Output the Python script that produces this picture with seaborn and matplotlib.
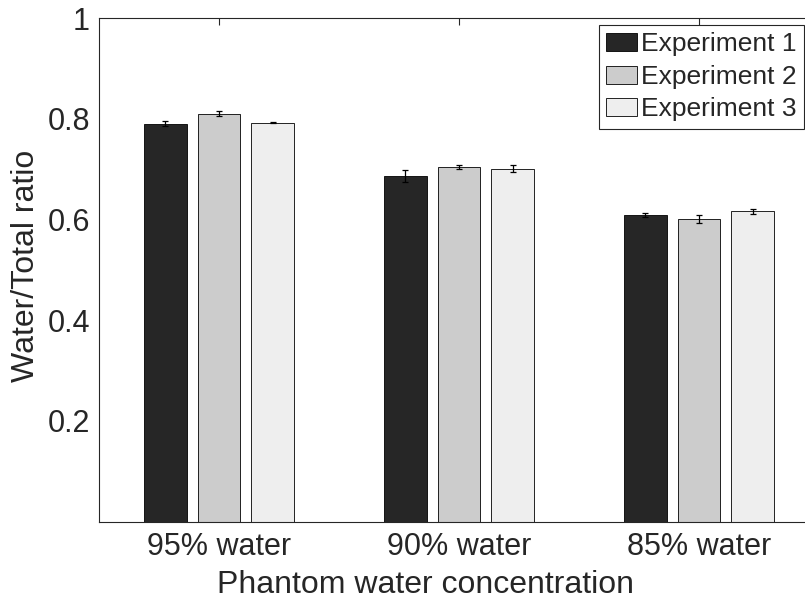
import numpy as np
import pandas as pd
import matplotlib
matplotlib.use('Agg')
import matplotlib.pyplot as plt
import seaborn as sns

groups = ['95% water', '90% water', '85% water']
experiments = ['Experiment 1', 'Experiment 2', 'Experiment 3']
exp1_mean = [0.790, 0.686, 0.608]
exp2_mean = [0.810, 0.704, 0.600]
exp3_mean = [0.792, 0.701, 0.616]
exp1_err = [0.0045, 0.012, 0.004]
exp2_err = [0.005, 0.004, 0.008]
exp3_err = [0.001, 0.0065, 0.005]
colors = ['#262626', '#cccccc', '#eeeeee']
yticks = [0.2, 0.4, 0.6, 0.8, 1.0]
ytick_labels = ['0.2', '0.4', '0.6', '0.8', '1']

means = [exp1_mean, exp2_mean, exp3_mean]
errs = [exp1_err, exp2_err, exp3_err]
rows = []
for e, m in zip(experiments, means):
    for g, v in zip(groups, m):
        rows.append({'group': g, 'experiment': e, 'ratio': v})
df = pd.DataFrame(rows)

sns.set_style('white')
plt.rcParams['font.family'] = ['Liberation Sans', 'DejaVu Sans']

fig = plt.figure(figsize=(8.05, 6.03), dpi=100)
ax = fig.add_axes([99 / 805, (603 - 521.5) / 603, 720 / 805, (521.5 - 18) / 603])
sns.barplot(data=df, x='group', y='ratio', hue='experiment', order=groups,
            hue_order=experiments, palette=colors, saturation=1,
            width=0.67, gap=0.2, errorbar=None, edgecolor='black',
            linewidth=0.6, ax=ax)

for cont, err in zip(ax.containers, errs):
    xs = [b.get_x() + b.get_width() / 2 for b in cont]
    ys = [b.get_height() for b in cont]
    ax.errorbar(xs, ys, yerr=err, fmt='none', ecolor='black',
                elinewidth=0.9, capsize=2.2, capthick=0.9)

ax.set_xlim(-0.5, 2.5)
ax.set_ylim(0, 1)
ax.set_yticks(yticks)
ax.set_yticklabels(ytick_labels)
ax.tick_params(direction='in', length=5, width=0.8, top=True, right=True,
               labelsize=22, colors='#262626')
ax.tick_params(axis='x', pad=7.5)
ax.tick_params(axis='y', pad=6.5)
for s in ax.spines.values():
    s.set_color('#262626')
    s.set_linewidth(0.8)
ax.set_xlabel('Phantom water concentration', fontsize=23, color='#262626')
ax.set_ylabel('Water/Total ratio', fontsize=23, color='#262626')
ax.xaxis.set_label_coords((425 - 99) / 720, -(585 - 521.5) / 503.5)
ax.xaxis.label.set_va('center')
ax.yaxis.set_label_coords(-(99 - 26) / 720, (521.5 - 266) / 503.5)
ax.yaxis.label.set_va('center')

leg = ax.legend(loc='upper right', bbox_to_anchor=(804 / 805, 1 - 25 / 603),
                bbox_transform=fig.transFigure, fontsize=19, frameon=True,
                fancybox=False, edgecolor='#262626', framealpha=1,
                borderpad=0.28, labelspacing=0.32, handlelength=1.17,
                handleheight=0.68, handletextpad=0.15, borderaxespad=0)
leg.get_frame().set_linewidth(0.8)

fig.savefig('out.png', dpi=100)
